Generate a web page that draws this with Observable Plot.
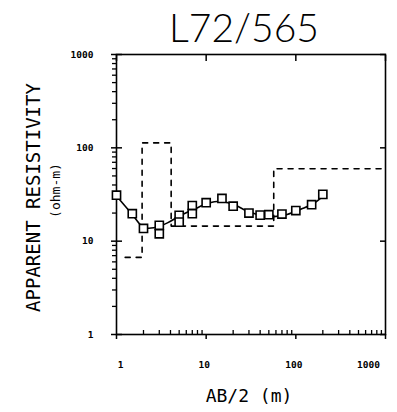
<!DOCTYPE html>
<html>
<head>
<meta charset="utf-8">
<script src="https://cdn.jsdelivr.net/npm/d3@7"></script>
<script src="https://cdn.jsdelivr.net/npm/@observablehq/plot@0.6"></script>
<style>
  html, body { margin: 0; padding: 0; background: #fff; }
  #chart svg { display: block; }
</style>
</head>
<body>
<div id="chart"></div>
<script>
// Measured apparent resistivity (AB/2 in m, rho in ohm-m)
const obsAB2 = [1, 1.5, 2, 3, 3, 5, 5, 7, 7, 10, 15, 20, 30, 40, 50, 70, 100, 150, 200];
const obsRho = [31.1, 19.7, 13.7, 14.8, 12.0, 18.9, 16.0, 24.1, 19.7, 25.8, 28.7, 23.7, 20.0, 19.0, 19.2, 19.5, 21.3, 24.6, 31.7];

// Model (calculated) curve
const curveAB2 = [1, 1.5, 2, 2.6, 3.7, 5.2, 7.3, 10.3, 14.4, 20.3, 28.7, 40.2, 56.7, 80, 112, 158, 205];
const curveRho = [30.4, 19.3, 14.1, 13.9, 15.7, 18.9, 21.9, 25.3, 26.8, 24.7, 21.0, 18.9, 18.3, 19.3, 21.9, 25.3, 30.9];

// Layered model (depth boundaries, layer resistivities)
const layerDepth = [1.25, 1.93, 4.07, 56.7, 1000];
const layerRho = [6.7, 113, 14.5, 59.7, 59.7];

// Axis ticks
const majorTicks = [1, 10, 100, 1000];
const majorTickLabels = ["1", "10", "100", "1000"];
const minorTicks = [1, 10, 100].flatMap(d => [2, 3, 4, 5, 6, 7, 8, 9].map(k => k * d));

const titleText = ["L72/565"];
const yLabel = ["APPARENT RESISTIVITY"];
const yUnit = ["(ohm-m)"];
const xLabel = ["AB/2 (m)"];

const obs = obsAB2.map((x, i) => ({x, y: obsRho[i]}));
const curve = curveAB2.map((x, i) => ({x, y: curveRho[i]}));
const layers = layerDepth.map((x, i) => ({x, y: layerRho[i]}));

const mono = "'DejaVu Sans Mono', 'Liberation Mono', monospace";
const labelFmt = d => majorTickLabels[majorTicks.indexOf(d)];

const chart = Plot.plot({
  width: 397,
  height: 412,
  marginLeft: 116,
  marginRight: 12,
  marginTop: 54,
  marginBottom: 78,
  style: {background: "white", color: "black"},
  x: {type: "log", domain: [1, 1000]},
  y: {type: "log", domain: [1, 1000]},
  marks: [
    Plot.frame({stroke: "black", strokeWidth: 1.6}),
    // left axis: major ticks outward + labels
    Plot.axisY({anchor: "left", ticks: majorTicks, tickSize: 5, tickPadding: 18, tickFormat: labelFmt,
      fontSize: 9.5, fontWeight: "bold", fontFamily: mono, label: null, strokeWidth: 1.5}),
    Plot.axisY({anchor: "left", ticks: majorTicks, tickSize: -6, text: null, label: null, strokeWidth: 1.5}),
    Plot.axisY({anchor: "left", ticks: minorTicks, tickSize: 4, text: null, label: null, strokeWidth: 1.3}),
    Plot.axisY({anchor: "right", ticks: majorTicks, tickSize: -6, text: null, label: null, strokeWidth: 1.5}),
    Plot.axisX({anchor: "top", ticks: majorTicks, tickSize: -6, text: null, label: null, strokeWidth: 1.5}),
    // bottom axis
    Plot.axisX({anchor: "bottom", ticks: majorTicks, tickSize: 5, text: null, label: null, strokeWidth: 1.5}),
    Plot.axisX({anchor: "bottom", ticks: minorTicks, tickSize: -4, text: null, label: null, strokeWidth: 1.3}),
    Plot.axisX({anchor: "bottom", ticks: majorTicks.slice(0, 1), tickSize: 0, tickPadding: 27, dx: 4,
      tickFormat: labelFmt, fontSize: 9.5, fontWeight: "bold", fontFamily: mono, label: null}),
    Plot.axisX({anchor: "bottom", ticks: majorTicks.slice(1, 3), tickSize: 0, tickPadding: 27, dx: -2,
      tickFormat: labelFmt, fontSize: 9.5, fontWeight: "bold", fontFamily: mono, label: null}),
    Plot.axisX({anchor: "bottom", ticks: majorTicks.slice(3), tickSize: 0, tickPadding: 27, dx: -17,
      tickFormat: labelFmt, fontSize: 9.5, fontWeight: "bold", fontFamily: mono, label: null}),
    // layered model
    Plot.line(layers, {x: "x", y: "y", curve: "step-after", stroke: "black", strokeWidth: 1.6,
      strokeDasharray: "5,6"}),
    // model curve
    Plot.line(curve, {x: "x", y: "y", curve: "catmull-rom", stroke: "black", strokeWidth: 1.6}),
    // observed points
    Plot.dot(obs, {x: "x", y: "y", symbol: "square", r: 4.6, fill: "white", stroke: "black", strokeWidth: 1.6}),
    // texts
    Plot.text(titleText, {frameAnchor: "top", text: d => d, dx: -7, dy: -25, lineAnchor: "middle",
      textAnchor: "middle", fontSize: 39, fontWeight: 300, fontFamily: "Lato, 'DejaVu Sans', sans-serif",
      letterSpacing: 5, fill: "black"}),
    Plot.text(yLabel, {frameAnchor: "left", text: d => d, rotate: -90, dx: -83, dy: 3, lineAnchor: "middle",
      textAnchor: "middle", fontSize: 19, fontFamily: mono, fill: "black"}),
    Plot.text(yUnit, {frameAnchor: "left", text: d => d, rotate: -90, dx: -61, dy: -4, lineAnchor: "middle",
      textAnchor: "middle", fontSize: 13, fontFamily: mono, fill: "black"}),
    Plot.text(xLabel, {frameAnchor: "bottom", text: d => d, dx: -2, dy: 62, lineAnchor: "middle",
      textAnchor: "middle", fontSize: 18, fontFamily: mono, letterSpacing: 2.6, fill: "black"})
  ]
});
document.getElementById("chart").appendChild(chart);
</script>
</body>
</html>
